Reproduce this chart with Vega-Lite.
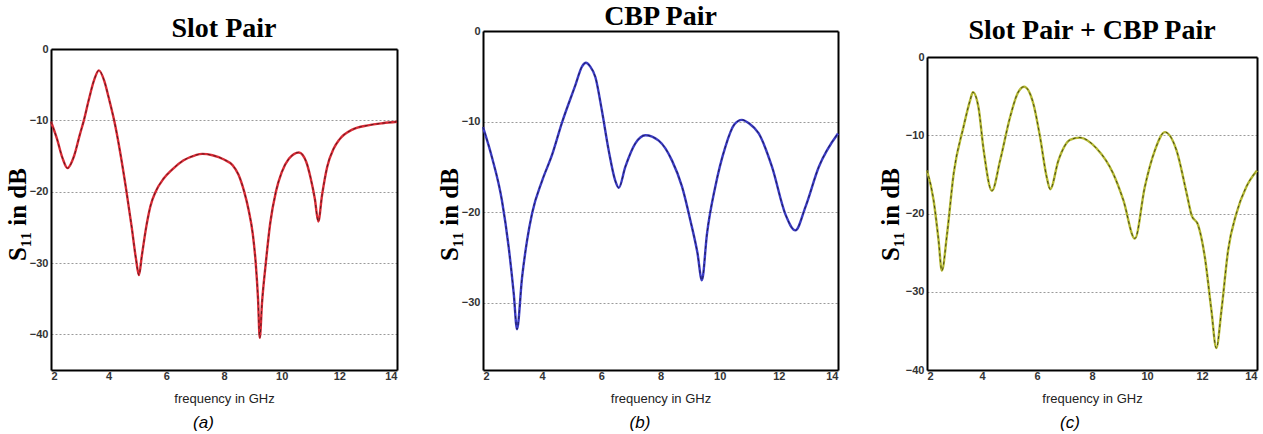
{
  "$schema": "https://vega.github.io/schema/vega-lite/v6.json",
  "background": "white",
  "padding": {"left": 5, "top": 3, "right": 0, "bottom": 0},
  "align": "none",
  "spacing": 35,
  "config": {
    "view": {"stroke": null},
    "title": {"font": "Liberation Serif", "fontSize": 28, "fontWeight": "bold", "color": "black", "anchor": "middle"},
    "axis": {
      "labelFont": "Liberation Sans", "labelFontSize": 11, "labelFontWeight": "bold", "labelColor": "#333",
      "domainColor": "black", "domainWidth": 2, "ticks": false
    },
    "axisX": {"grid": false, "labelPadding": 0, "titleFont": "Liberation Sans", "titleFontSize": 13, "titleFontWeight": "normal", "titleColor": "#222", "titlePadding": 11},
    "axisY": {"gridDash": [2, 2], "gridColor": "#9a9a9a", "gridWidth": 1, "labelPadding": 3, "titleFont": "Liberation Serif", "titleFontSize": 25, "titleFontWeight": "bold", "titleColor": "black", "titleAngle": -90, "titleAlign": "center", "titleBaseline": "alphabetic"},
    "line": {"interpolate": "monotone"}
  },
  "datasets": {
    "a": [
      {"f": 2, "s": -10.2}, {"f": 2.2, "s": -12.5}, {"f": 2.4, "s": -15.3}, {"f": 2.57, "s": -16.7}, {"f": 2.8, "s": -15.0}, {"f": 3.0, "s": -12.0}, {"f": 3.14, "s": -10}, {"f": 3.3, "s": -7.3}, {"f": 3.5, "s": -4.3}, {"f": 3.66, "s": -3.0}, {"f": 3.85, "s": -4.5}, {"f": 4.0, "s": -6.8}, {"f": 4.19, "s": -10}, {"f": 4.4, "s": -14.5}, {"f": 4.6, "s": -19.5}, {"f": 4.8, "s": -25}, {"f": 4.95, "s": -29.5}, {"f": 5.05, "s": -31.7}, {"f": 5.15, "s": -29}, {"f": 5.3, "s": -25}, {"f": 5.45, "s": -22}, {"f": 5.63, "s": -20}, {"f": 5.9, "s": -18.2}, {"f": 6.2, "s": -16.9}, {"f": 6.6, "s": -15.6}, {"f": 7.0, "s": -14.9}, {"f": 7.25, "s": -14.7}, {"f": 7.6, "s": -14.9}, {"f": 8.0, "s": -15.5}, {"f": 8.3, "s": -16.3}, {"f": 8.5, "s": -17.6}, {"f": 8.7, "s": -20}, {"f": 8.85, "s": -22.5}, {"f": 9.0, "s": -26}, {"f": 9.1, "s": -30}, {"f": 9.18, "s": -35}, {"f": 9.24, "s": -40.5}, {"f": 9.32, "s": -35.5}, {"f": 9.45, "s": -30}, {"f": 9.6, "s": -24.5}, {"f": 9.8, "s": -20}, {"f": 10.0, "s": -17.3}, {"f": 10.25, "s": -15.4}, {"f": 10.6, "s": -14.5}, {"f": 10.85, "s": -15.8}, {"f": 11.0, "s": -18}, {"f": 11.15, "s": -21}, {"f": 11.27, "s": -24.2}, {"f": 11.4, "s": -20.5}, {"f": 11.58, "s": -16.5}, {"f": 11.8, "s": -14}, {"f": 12.0, "s": -12.7}, {"f": 12.45, "s": -11.3}, {"f": 13.0, "s": -10.7}, {"f": 13.5, "s": -10.4}, {"f": 14, "s": -10.2}
    ],
    "b": [
      {"f": 2, "s": -10.6}, {"f": 2.3, "s": -13.9}, {"f": 2.64, "s": -18.7}, {"f": 2.87, "s": -23.9}, {"f": 3.04, "s": -29.0}, {"f": 3.15, "s": -32.9}, {"f": 3.32, "s": -27.2}, {"f": 3.49, "s": -23.1}, {"f": 3.66, "s": -20.1}, {"f": 4.0, "s": -16.5}, {"f": 4.33, "s": -13.7}, {"f": 4.67, "s": -10.1}, {"f": 5.12, "s": -6.0}, {"f": 5.35, "s": -3.9}, {"f": 5.48, "s": -3.5}, {"f": 5.62, "s": -3.9}, {"f": 5.8, "s": -5.1}, {"f": 6.02, "s": -8.8}, {"f": 6.25, "s": -13.2}, {"f": 6.47, "s": -16.5}, {"f": 6.59, "s": -17.3}, {"f": 6.81, "s": -15.0}, {"f": 7.15, "s": -12.4}, {"f": 7.49, "s": -11.5}, {"f": 7.94, "s": -12.1}, {"f": 8.39, "s": -14.3}, {"f": 8.73, "s": -17.2}, {"f": 9.01, "s": -20.9}, {"f": 9.25, "s": -24.5}, {"f": 9.4, "s": -27.5}, {"f": 9.57, "s": -22.4}, {"f": 9.85, "s": -17.2}, {"f": 10.19, "s": -12.8}, {"f": 10.5, "s": -10.3}, {"f": 10.75, "s": -9.8}, {"f": 11.0, "s": -10.2}, {"f": 11.32, "s": -11.3}, {"f": 11.77, "s": -15.0}, {"f": 12.22, "s": -20.2}, {"f": 12.56, "s": -22.0}, {"f": 12.9, "s": -19.4}, {"f": 13.35, "s": -15.0}, {"f": 14, "s": -11.3}
    ],
    "c": [
      {"f": 2, "s": -14.5}, {"f": 2.24, "s": -18.3}, {"f": 2.42, "s": -23.4}, {"f": 2.54, "s": -27.3}, {"f": 2.73, "s": -22.6}, {"f": 2.97, "s": -14.9}, {"f": 3.33, "s": -8.9}, {"f": 3.57, "s": -5.5}, {"f": 3.67, "s": -4.5}, {"f": 3.87, "s": -6.4}, {"f": 4.06, "s": -11.9}, {"f": 4.36, "s": -17.1}, {"f": 4.66, "s": -13.2}, {"f": 5.02, "s": -7.7}, {"f": 5.3, "s": -4.6}, {"f": 5.53, "s": -3.8}, {"f": 5.87, "s": -6.0}, {"f": 6.11, "s": -10.2}, {"f": 6.35, "s": -15.3}, {"f": 6.48, "s": -16.9}, {"f": 6.78, "s": -13.2}, {"f": 7.2, "s": -10.6}, {"f": 7.56, "s": -10.3}, {"f": 8.17, "s": -11.7}, {"f": 8.77, "s": -14.9}, {"f": 9.14, "s": -18.3}, {"f": 9.56, "s": -23.2}, {"f": 9.92, "s": -16.6}, {"f": 10.29, "s": -11.9}, {"f": 10.65, "s": -9.6}, {"f": 11.07, "s": -11.9}, {"f": 11.44, "s": -17.4}, {"f": 11.62, "s": -20.2}, {"f": 11.86, "s": -21.5}, {"f": 12.1, "s": -25.5}, {"f": 12.34, "s": -32.3}, {"f": 12.52, "s": -37.2}, {"f": 12.71, "s": -32.3}, {"f": 12.95, "s": -24.7}, {"f": 13.25, "s": -20.0}, {"f": 13.61, "s": -16.6}, {"f": 14, "s": -14.5}
    ]
  },
  "hconcat": [
    {
      "title": {"text": "(a)", "orient": "bottom", "font": "Liberation Sans", "fontSize": 17, "fontStyle": "italic", "fontWeight": "normal", "offset": 10},
      "vconcat": [{
        "title": {"text": "Slot Pair", "offset": -12},
        "width": 346, "height": 339,
        "data": {"name": "a"},
        "layer": [
          {"mark": {"type": "line", "color": "#d92b36", "strokeWidth": 2.4},
           "encoding": {
            "x": {"field": "f", "type": "quantitative", "scale": {"domain": [2, 14], "nice": false, "zero": false}, "axis": {"orient": "bottom", "title": "frequency in GHz", "values": [2, 4, 6, 8, 10, 12, 14]}},
            "y": {"field": "s", "type": "quantitative", "scale": {"domain": [-45, 0], "nice": false, "zero": false, "range": [339, 18]}, "axis": {"orient": "left", "grid": true, "title": "S₁₁ in dB", "values": [0, -10, -20, -30, -40], "titleX": -26, "titleY": 183}}
           }},
          {"mark": {"type": "line", "color": "#3a1518", "strokeWidth": 0.8, "strokeDash": [3, 3]},
           "encoding": {
            "x": {"field": "f", "type": "quantitative", "scale": {"domain": [2, 14], "nice": false, "zero": false}, "axis": {"orient": "top", "labels": false, "title": null, "offset": -18}},
            "y": {"field": "s", "type": "quantitative", "scale": {"domain": [-45, 0], "nice": false, "zero": false, "range": [339, 18]}, "axis": {"orient": "right", "labels": false, "title": null, "grid": false}}
           }}
        ],
        "resolve": {"axis": {"x": "independent", "y": "independent"}}
      }]
    },
    {
      "title": {"text": "(b)", "orient": "bottom", "font": "Liberation Sans", "fontSize": 17, "fontStyle": "italic", "fontWeight": "normal", "offset": 10},
      "vconcat": [{
        "title": {"text": "CBP Pair", "offset": -6},
        "width": 355, "height": 339,
        "data": {"name": "b"},
        "layer": [
          {"mark": {"type": "line", "color": "#3b3bc4", "strokeWidth": 2.4},
           "encoding": {
            "x": {"field": "f", "type": "quantitative", "scale": {"domain": [2, 14], "nice": false, "zero": false}, "axis": {"orient": "bottom", "title": "frequency in GHz", "values": [2, 4, 6, 8, 10, 12, 14]}},
            "y": {"field": "s", "type": "quantitative", "scale": {"domain": [-37.4, 0], "nice": false, "zero": false, "range": [339, 0]}, "axis": {"orient": "left", "grid": true, "title": "S₁₁ in dB", "values": [0, -10, -20, -30], "titleX": -26, "titleY": 183}}
           }},
          {"mark": {"type": "line", "color": "#15153a", "strokeWidth": 0.8, "strokeDash": [3, 3]},
           "encoding": {
            "x": {"field": "f", "type": "quantitative", "scale": {"domain": [2, 14], "nice": false, "zero": false}, "axis": {"orient": "top", "labels": false, "title": null}},
            "y": {"field": "s", "type": "quantitative", "scale": {"domain": [-37.4, 0], "nice": false, "zero": false, "range": [339, 0]}, "axis": {"orient": "right", "labels": false, "title": null, "grid": false}}
           }}
        ],
        "resolve": {"axis": {"x": "independent", "y": "independent"}}
      }]
    },
    {
      "title": {"text": "(c)", "orient": "bottom", "font": "Liberation Sans", "fontSize": 17, "fontStyle": "italic", "fontWeight": "normal", "offset": 10},
      "vconcat": [{
        "title": {"text": "Slot Pair + CBP Pair", "offset": -14},
        "width": 330, "height": 339,
        "data": {"name": "c"},
        "layer": [
          {"mark": {"type": "line", "color": "#b4b832", "strokeWidth": 2.4},
           "encoding": {
            "x": {"field": "f", "type": "quantitative", "scale": {"domain": [2, 14], "nice": false, "zero": false}, "axis": {"orient": "bottom", "title": "frequency in GHz", "values": [2, 4, 6, 8, 10, 12, 14]}},
            "y": {"field": "s", "type": "quantitative", "scale": {"domain": [-40, 0], "nice": false, "zero": false, "range": [339, 26]}, "axis": {"orient": "left", "grid": true, "title": "S₁₁ in dB", "values": [0, -10, -20, -30, -40], "titleX": -29, "titleY": 183}}
           }},
          {"mark": {"type": "line", "color": "#2a2a10", "strokeWidth": 0.8, "strokeDash": [3, 3]},
           "encoding": {
            "x": {"field": "f", "type": "quantitative", "scale": {"domain": [2, 14], "nice": false, "zero": false}, "axis": {"orient": "top", "labels": false, "title": null, "offset": -26}},
            "y": {"field": "s", "type": "quantitative", "scale": {"domain": [-40, 0], "nice": false, "zero": false, "range": [339, 26]}, "axis": {"orient": "right", "labels": false, "title": null, "grid": false}}
           }}
        ],
        "resolve": {"axis": {"x": "independent", "y": "independent"}}
      }]
    }
  ]
}
